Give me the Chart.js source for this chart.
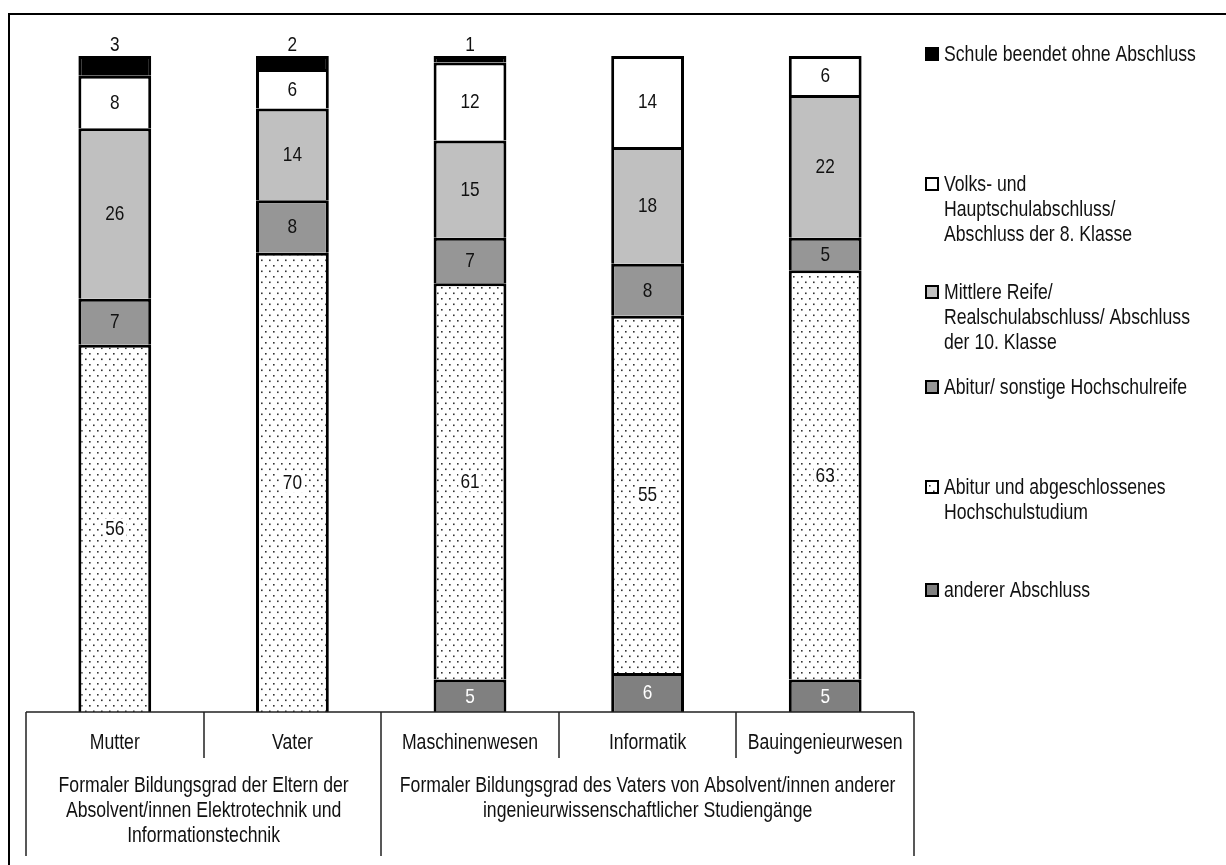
<!DOCTYPE html>
<html>
<head>
<meta charset="utf-8">
<script src="https://cdn.jsdelivr.net/npm/chart.js@4.4.1/dist/chart.umd.min.js"></script>
<style>
html, body { margin: 0; padding: 0; background: #fff; overflow: hidden; }
#frame { position: absolute; left: 8px; top: 13px; width: 1400px; height: 1000px; border: 2px solid #000; box-sizing: border-box; }
#chart { position: absolute; left: 0; top: 0; }
</style>
</head>
<body>
<div id="frame"></div>
<canvas id="chart" width="1226" height="865"></canvas>
<script>
// --- Data (percent) ---
const categories = ['Mutter', 'Vater', 'Maschinenwesen', 'Informatik', 'Bauingenieurwesen'];
const groupLabels = [
    ['Formaler Bildungsgrad der Eltern der', 'Absolvent/innen Elektrotechnik und', 'Informationstechnik'],
    ['Formaler Bildungsgrad des Vaters von Absolvent/innen anderer', 'ingenieurwissenschaftlicher Studiengänge']
];
const groupSpans = [[0, 1], [2, 4]];

const andererAbschluss = [0, 0, 5, 6, 5];
const abiturStudium    = [56, 70, 61, 55, 63];
const abiturSonstige   = [7, 8, 7, 8, 5];
const mittlereReife    = [26, 14, 15, 18, 22];
const volksHauptschule = [8, 6, 12, 14, 6];
const ohneAbschluss    = [3, 2, 1, 0, 0];

// legend text, top to bottom
const legendLabels = [
    ['Schule beendet ohne Abschluss'],
    ['Volks- und', 'Hauptschulabschluss/', 'Abschluss der 8. Klasse'],
    ['Mittlere Reife/', 'Realschulabschluss/ Abschluss', 'der 10. Klasse'],
    ['Abitur/ sonstige Hochschulreife'],
    ['Abitur und abgeschlossenes', 'Hochschulstudium'],
    ['anderer Abschluss']
];

// --- layout / style ---
const FONT = '"Liberation Sans", Arial, sans-serif';
const SQUEEZE = 0.82; // no narrow font installed, so text is compressed horizontally
const legendY = [54, 184, 292, 387, 487, 590]; // first-line centre of each legend entry
const legendX = 925;

function dotPattern() {
    const c = document.createElement('canvas');
    c.width = 8; c.height = 11;
    const g = c.getContext('2d');
    g.fillStyle = '#fff'; g.fillRect(0, 0, 8, 11);
    g.fillStyle = '#333';
    g.fillRect(1, 1, 1.6, 1.6);
    g.fillRect(5, 6.5, 1.6, 1.6);
    return g.createPattern(c, 'repeat');
}
const dots = dotPattern();

// bottom to top in the stack
const stack = [
    { values: andererAbschluss, fill: '#808080', text: '#fff' },
    { values: abiturStudium,    fill: dots,      text: '#111', box: true },
    { values: abiturSonstige,   fill: '#969696', text: '#111' },
    { values: mittlereReife,    fill: '#c0c0c0', text: '#111' },
    { values: volksHauptschule, fill: '#ffffff', text: '#111' },
    { values: ohneAbschluss,    fill: '#000000', text: '#111', above: true }
];

// 100% stacked: each column scaled to its own total
const totals = categories.map((_, i) => stack.reduce((s, d) => s + d.values[i], 0));

const datasets = stack.map((d, k) => ({
    label: legendLabels[stack.length - 1 - k].join(' '),
    data: d.values.map((v, i) => v / totals[i] * 100),
    backgroundColor: d.fill,
    borderColor: '#000',
    borderWidth: 3,
    barPercentage: 0.41,
    categoryPercentage: 1
}));

function narrowText(ctx, txt, x, y) {
    ctx.save();
    ctx.translate(x, y);
    ctx.scale(SQUEEZE, 1);
    ctx.fillText(txt, 0, 0);
    ctx.restore();
}

const drawExtras = {
    id: 'drawExtras',
    afterDatasetsDraw(chart) {
        const ctx = chart.ctx;
        const area = chart.chartArea;
        const xs = chart.scales.x;
        ctx.save();

        // value labels
        ctx.font = '21px ' + FONT;
        ctx.textAlign = 'center';
        ctx.textBaseline = 'middle';
        stack.forEach((d, k) => {
            const meta = chart.getDatasetMeta(k);
            meta.data.forEach((bar, i) => {
                const v = d.values[i];
                if (!v) return;
                const txt = String(v);
                let y = (bar.y + bar.base) / 2;
                if (d.above) y = bar.y - 12;
                if (d.box) {
                    const w = ctx.measureText(txt).width * SQUEEZE;
                    ctx.fillStyle = '#fff';
                    ctx.fillRect(bar.x - w / 2 - 2, y - 10, w + 4, 20);
                }
                ctx.fillStyle = d.text;
                narrowText(ctx, txt, bar.x, y + 1);
            });
        });

        // category table under the bars
        const step = (area.right - area.left) / categories.length;
        const base = area.bottom;
        ctx.strokeStyle = '#222';
        ctx.lineWidth = 1.5;
        ctx.beginPath();
        ctx.moveTo(area.left, base); ctx.lineTo(area.right, base);
        for (let i = 0; i <= categories.length; i++) {
            const x = Math.round(area.left + i * step);
            const groupEdge = i === 0 || i === categories.length || groupSpans.some(g => g[0] === i);
            ctx.moveTo(x, base);
            ctx.lineTo(x, base + (groupEdge ? 144 : 46));
        }
        ctx.stroke();

        ctx.fillStyle = '#111';
        ctx.font = '21.5px ' + FONT;
        categories.forEach((c, i) => {
            narrowText(ctx, c, xs.getPixelForValue(i), base + 31);
        });
        groupLabels.forEach((lines, g) => {
            const [a, b] = groupSpans[g];
            const cx = (area.left + a * step + area.left + (b + 1) * step) / 2;
            lines.forEach((line, j) => narrowText(ctx, line, cx, base + 74 + j * 25));
        });

        // legend
        ctx.textAlign = 'left';
        legendLabels.forEach((lines, j) => {
            const d = stack[stack.length - 1 - j];
            const y = legendY[j];
            ctx.fillStyle = d.fill;
            ctx.fillRect(legendX, y - 7, 14, 14);
            ctx.strokeStyle = '#000';
            ctx.lineWidth = 2;
            ctx.strokeRect(legendX + 1, y - 6, 12, 12);
            ctx.fillStyle = '#111';
            lines.forEach((line, n) => narrowText(ctx, line, legendX + 19, y + 1 + n * 25));
        });
        ctx.restore();
    }
};

new Chart(document.getElementById('chart'), {
    type: 'bar',
    data: { labels: categories, datasets },
    options: {
        responsive: false,
        animation: false,
        devicePixelRatio: 1,
        layout: { padding: { left: 26, right: 312, top: 56, bottom: 153 } },
        plugins: { legend: { display: false }, tooltip: { enabled: false } },
        scales: {
            x: { stacked: true, display: false },
            y: { stacked: true, display: false, min: 0, max: 100 }
        }
    },
    plugins: [drawExtras]
});
</script>
</body>
</html>
